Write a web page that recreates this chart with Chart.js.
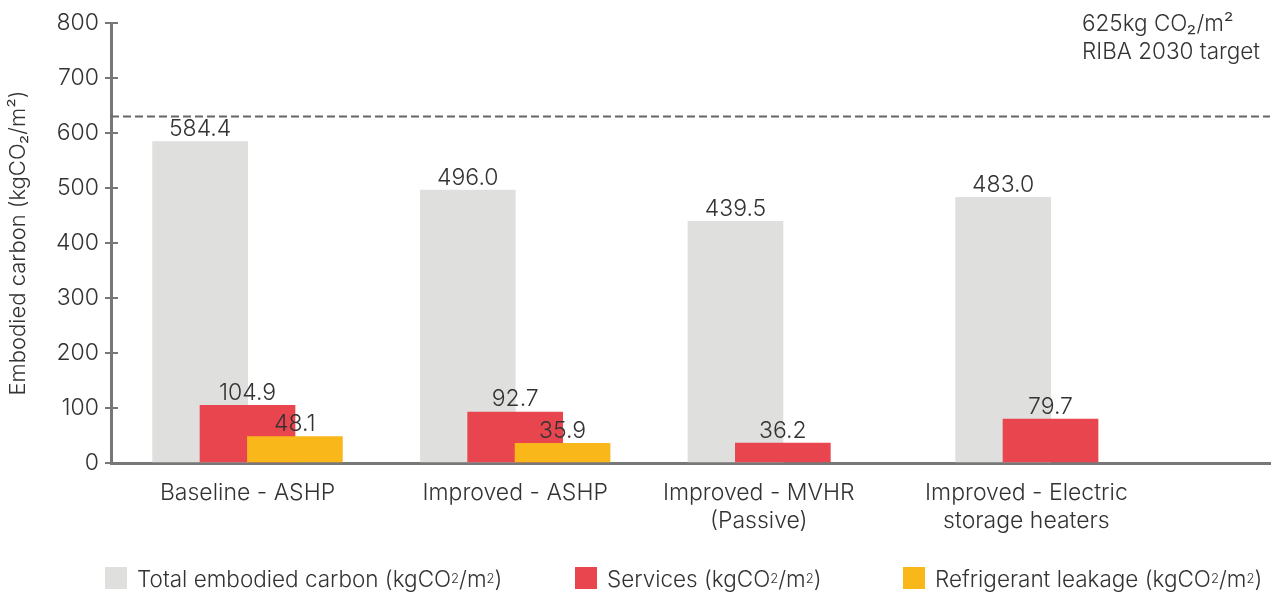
<!DOCTYPE html>
<html>
<head>
<meta charset="utf-8">
<script src="https://cdn.jsdelivr.net/npm/chart.js@4/dist/chart.umd.min.js"></script>
<style>
  body { margin: 0; background: #fff; }
  #wrap { position: relative; width: 1273px; height: 592px; }
  #legend { position: absolute; left: 0; top: 566px; width: 1273px; height: 24px;
            font: 300 22.5px Inter, sans-serif; color: #333; }
  .item { position: absolute; top: 0; height: 24px; display: flex; align-items: center; white-space: nowrap; }
  .box { width: 22px; height: 22px; margin-right: 10px; }
  sub, sup { font-size: 13px; line-height: 0; }
  sub { vertical-align: -5px; }
</style>
</head>
<body>
<div id="wrap">
  <canvas id="chart" width="1273" height="592"></canvas>
  <div id="legend"></div>
</div>
<script>
const categories = [
  ['Baseline - ASHP'],
  ['Improved - ASHP'],
  ['Improved - MVHR', '(Passive)'],
  ['Improved - Electric', 'storage heaters']
];
const totalCarbon = [584.4, 496.0, 439.5, 483.0];
const services = [104.9, 92.7, 36.2, 79.7];
const refrigerant = [48.1, 35.9, null, null];
const yTicks = [0, 100, 200, 300, 400, 500, 600, 700, 800];
const targetValue = 630;
const targetText = ['625kg CO\u2082/m\u00b2', 'RIBA 2030 target'];

const seriesNames = ['Total embodied carbon', 'Services', 'Refrigerant leakage'];
const seriesColors = ['#dfdfde', '#e8454f', '#f9b71a'];

// bars in a group sit half a bar apart, x is in category units
const shift = 0.177;
// the last two labels sit a little left of their groups in the original
const labelNudge = [0, 0, -0.09, -0.09];
const xMin = -0.51, xMax = 3.82;
const textColor = '#333';
const axisColor = '#777';

Chart.defaults.font.family = 'Inter';
Chart.defaults.font.weight = '300';
Chart.defaults.color = textColor;

const toPoints = (arr, off) => arr.map((v, i) => ({ x: i + off, y: v }));

const valueLabels = {
  id: 'valueLabels',
  afterDatasetsDraw(chart) {
    const ctx = chart.ctx;
    ctx.save();
    ctx.font = '300 23px Inter';
    ctx.fillStyle = textColor;
    ctx.textAlign = 'center';
    ctx.textBaseline = 'bottom';
    chart.data.datasets.forEach((ds, di) => {
      if (ds.type === 'line') return;
      chart.getDatasetMeta(di).data.forEach((el, i) => {
        const v = ds.data[i].y;
        if (v == null) return;
        ctx.fillText(v.toFixed(1), el.x, el.y - 1);
      });
    });
    ctx.restore();
  }
};

const extras = {
  id: 'extras',
  afterDraw(chart) {
    const ctx = chart.ctx;
    const area = chart.chartArea;
    const y = chart.scales.y;
    ctx.save();
    // inner halves of the y ticks
    ctx.strokeStyle = axisColor;
    ctx.lineWidth = 2;
    yTicks.slice(1).forEach(t => {
      const py = y.getPixelForValue(t);
      ctx.beginPath();
      ctx.moveTo(area.left, py);
      ctx.lineTo(area.left + 7, py);
      ctx.stroke();
    });
    // target note
    ctx.font = '300 22.5px Inter';
    ctx.fillStyle = textColor;
    ctx.textAlign = 'left';
    ctx.textBaseline = 'middle';
    ctx.fillText(targetText[0], 1082, 24);
    ctx.fillText(targetText[1], 1082, 52);
    ctx.restore();
  }
};

new Chart(document.getElementById('chart'), {
  type: 'bar',
  data: {
    datasets: [
      { label: seriesNames[0], data: toPoints(totalCarbon, -shift), backgroundColor: seriesColors[0], order: 3 },
      { label: seriesNames[1], data: toPoints(services, 0), backgroundColor: seriesColors[1], order: 2 },
      { label: seriesNames[2], data: toPoints(refrigerant, shift), backgroundColor: seriesColors[2], order: 1 },
      {
        type: 'line', label: 'target', order: 0,
        data: [{ x: xMin, y: targetValue }, { x: xMax, y: targetValue }],
        borderColor: '#666', borderWidth: 2, borderDash: [8, 4], pointRadius: 0
      }
    ]
  },
  options: {
    responsive: false,
    animation: false,
    devicePixelRatio: 1,
    datasets: { bar: { grouped: false, barThickness: 95 } },
    layout: { padding: { top: 23, right: 3, bottom: 49, left: 0 } },
    plugins: { legend: { display: false }, tooltip: { enabled: false } },
    scales: {
      x: {
        type: 'linear',
        min: xMin,
        max: xMax,
        offset: false,
        afterBuildTicks: s => { s.ticks = categories.map((c, i) => ({ value: i + labelNudge[i] })); },
        afterFit: s => { s.height = 80; },
        grid: { display: false },
        border: { color: axisColor, width: 3 },
        ticks: {
          autoSkip: false,
          maxRotation: 0,
          padding: 8,
          font: { size: 23, lineHeight: 1.22 },
          callback: (v, i) => categories[i]
        }
      },
      y: {
        min: 0,
        max: 800,
        afterBuildTicks: s => { s.ticks = yTicks.map(v => ({ value: v })); },
        afterFit: s => { s.width = 111; },
        grid: { drawOnChartArea: false, tickLength: 6, color: axisColor, lineWidth: 2 },
        border: { color: axisColor, width: 3 },
        ticks: { padding: 6, font: { size: 23 } },
        title: {
          display: true,
          text: 'Embodied carbon (kgCO\u2082/m\u00b2)',
          font: { size: 22 },
          padding: { top: 5, bottom: 0 }
        }
      }
    }
  },
  plugins: [valueLabels, extras]
});

// legend with real sub/superscripts
const legendLeft = [105, 575, 903];
const legend = document.getElementById('legend');
seriesNames.forEach((name, i) => {
  const item = document.createElement('div');
  item.className = 'item';
  item.style.left = legendLeft[i] + 'px';
  item.innerHTML = '<span class="box" style="background:' + seriesColors[i] + '"></span>' +
    name + ' (kgCO<sub>2</sub>/m<sup>2</sup>)';
  legend.appendChild(item);
});
</script>
</body>
</html>
